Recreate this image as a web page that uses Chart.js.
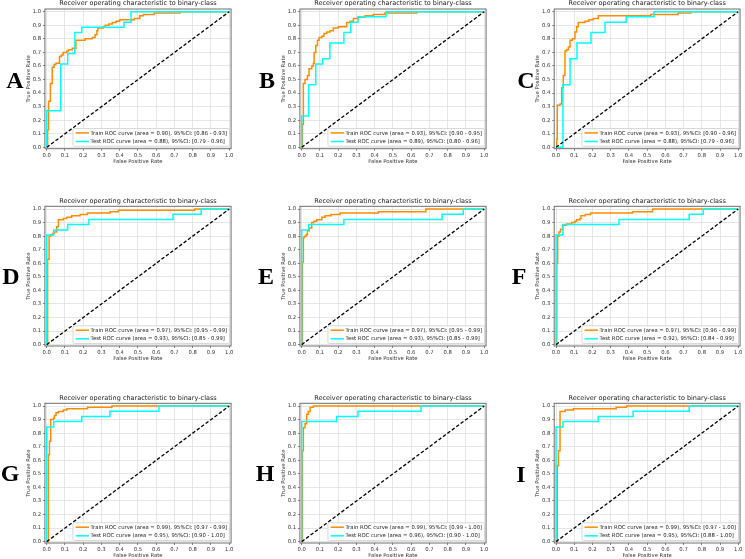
<!DOCTYPE html>
<html><head><meta charset="utf-8">
<script src="https://cdn.jsdelivr.net/npm/chart.js@4"></script>
<style>
html,body{margin:0;padding:0;background:#fff;overflow:hidden;width:745px;height:559px;}
#fig{position:relative;width:745px;height:559px;overflow:hidden;background:#fff;}
canvas{position:absolute;}
.lab{position:absolute;font-family:'Liberation Serif','Times New Roman',serif;font-weight:bold;font-size:24px;line-height:1;color:#000;transform:translate(-50%,-50%);}
</style></head><body><div id="fig"></div>
<script>
// ---------------- data ----------------
const panelLetters = ['A','B','C','D','E','F','G','H','I'];
const tickValues = [0.0,0.1,0.2,0.3,0.4,0.5,0.6,0.7,0.8,0.9,1.0];
const chartTitle = 'Receiver operating characteristic to binary-class';
const xAxisLabel = 'False Positive Rate';
const yAxisLabel = 'True Positive Rate';

const trainAuc    = [0.90,0.93,0.93,0.97,0.97,0.97,0.99,0.99,0.99];
const trainCiLow  = [0.86,0.90,0.90,0.95,0.95,0.96,0.97,0.99,0.97];
const trainCiHigh = [0.93,0.95,0.96,0.99,0.99,0.99,0.99,1.00,1.00];
const testAuc     = [0.88,0.89,0.88,0.93,0.93,0.92,0.95,0.96,0.95];
const testCiLow   = [0.79,0.80,0.79,0.85,0.85,0.84,0.90,0.90,0.88];
const testCiHigh  = [0.96,0.96,0.96,0.99,0.99,0.99,1.00,1.00,1.00];

const trainFprA = [0,0.005,0.01,0.02,0.03,0.04,0.05,0.07,0.08,0.09,0.11,0.12,0.14,0.16,0.21,0.25,0.265,0.275,0.28,0.31,0.32,0.34,0.36,0.38,0.40,0.48,0.51,0.53,0.59,0.73,1];
const trainTprA = [0,0.13,0.34,0.47,0.59,0.61,0.62,0.67,0.68,0.70,0.71,0.72,0.73,0.79,0.80,0.81,0.83,0.86,0.88,0.89,0.90,0.91,0.92,0.93,0.94,0.95,0.97,0.98,0.99,1,1];
const testFprA  = [0,0,0.077,0.115,0.154,0.192,0.423,0.462,1];
const testTprA  = [0,0.269,0.615,0.692,0.846,0.885,0.923,1,1];

const trainFprB = [0,0.004,0.009,0.018,0.031,0.04,0.055,0.064,0.068,0.077,0.086,0.095,0.11,0.122,0.137,0.155,0.173,0.20,0.246,0.265,0.283,0.31,0.347,0.392,0.456,0.63,1];
const trainTprB = [0,0.17,0.47,0.50,0.53,0.58,0.60,0.62,0.70,0.75,0.79,0.81,0.82,0.84,0.85,0.86,0.88,0.89,0.92,0.93,0.95,0.96,0.97,0.98,0.99,1,1];
const testFprB  = [0,0,0.038,0.077,0.115,0.154,0.231,0.269,0.308,0.462,1];
const testTprB  = [0,0.231,0.462,0.615,0.654,0.769,0.846,0.923,0.962,1,1];

const trainFprC = [0,0.004,0.007,0.022,0.031,0.04,0.049,0.058,0.068,0.077,0.089,0.104,0.113,0.122,0.159,0.181,0.204,0.232,0.52,0.67,0.74,1];
const trainTprC = [0,0.06,0.31,0.32,0.44,0.53,0.71,0.72,0.74,0.79,0.80,0.85,0.89,0.92,0.93,0.94,0.95,0.97,0.98,0.99,1,1];
const testFprC  = [0,0.038,0.077,0.115,0.192,0.269,0.385,0.538,1];
const testTprC  = [0,0.462,0.654,0.769,0.846,0.923,0.962,1,1];

const trainFprD = [0,0.005,0.013,0.022,0.031,0.042,0.055,0.064,0.091,0.11,0.137,0.183,0.223,0.347,0.393,0.81,1];
const trainTprD = [0,0.63,0.80,0.81,0.82,0.83,0.87,0.92,0.93,0.94,0.95,0.96,0.97,0.98,0.99,1,1];
const testFprD  = [0,0,0.038,0.115,0.231,0.692,0.846,1];
const testTprD  = [0,0.808,0.846,0.885,0.923,0.962,1,1];

const trainFprE = [0,0.004,0.009,0.015,0.024,0.031,0.042,0.055,0.067,0.082,0.11,0.128,0.16,0.21,0.42,0.68,1];
const trainTprE = [0,0.61,0.79,0.80,0.81,0.84,0.86,0.90,0.91,0.92,0.94,0.95,0.96,0.97,0.98,1,1];
const testFprE  = [0,0,0.038,0.231,0.769,0.885,1];
const testTprE  = [0,0.846,0.885,0.923,0.962,1,1];

const trainFprF = [0,0.004,0.009,0.016,0.025,0.036,0.058,0.086,0.104,0.113,0.131,0.137,0.16,0.19,0.42,0.53,1];
const trainTprF = [0,0.60,0.80,0.83,0.85,0.88,0.89,0.90,0.91,0.92,0.93,0.95,0.96,0.97,0.98,1,1];
const testFprF  = [0,0,0.038,0.346,0.731,0.808,1];
const testTprF  = [0,0.808,0.885,0.923,0.962,1,1];

const trainFprG = [0,0.009,0.015,0.022,0.037,0.042,0.051,0.064,0.09,0.11,0.223,0.357,1];
const trainTprG = [0,0.64,0.74,0.90,0.91,0.93,0.95,0.96,0.97,0.98,0.99,1,1];
const testFprG  = [0,0,0.038,0.192,0.346,0.615,1];
const testTprG  = [0,0.846,0.885,0.923,0.962,1,1];

const trainFprH = [0,0.004,0.009,0.018,0.027,0.036,0.046,0.064,1];
const trainTprH = [0,0.67,0.84,0.87,0.94,0.96,0.99,1,1];
const testFprH  = [0,0,0.192,0.308,0.654,1];
const testTprH  = [0,0.885,0.923,0.962,1,1];

const trainFprI = [0,0.007,0.013,0.022,0.05,0.095,0.33,0.387,1];
const trainTprI = [0,0.56,0.67,0.96,0.97,0.98,0.99,1,1];
const testFprI  = [0,0,0.038,0.231,0.423,0.731,1];
const testTprI  = [0,0.846,0.885,0.923,0.962,1,1];

// ---------------- layout / style ----------------
const trainFpr = [trainFprA,trainFprB,trainFprC,trainFprD,trainFprE,trainFprF,trainFprG,trainFprH,trainFprI];
const trainTpr = [trainTprA,trainTprB,trainTprC,trainTprD,trainTprE,trainTprF,trainTprG,trainTprH,trainTprI];
const testFpr  = [testFprA,testFprB,testFprC,testFprD,testFprE,testFprF,testFprG,testFprH,testFprI];
const testTpr  = [testTprA,testTprB,testTprC,testTprD,testTprE,testTprF,testTprG,testTprH,testTprI];

const colLeft = [44.9, 299.9, 554.2];
const colRight = [231.1, 486.1, 740.4];
const rowTop = [9.0, 206.3, 403.3];
const rowBottom = [148.7, 346.0, 543.0];
const letterPos = [[15,80],[267,80],[526,80],[11,276],[266,276],[519,276],[10,473],[265,473],[521,474]];

const TRAIN_COLOR = '#ff8c00', TEST_COLOR = '#00ffff';
const FONT = 'DejaVu Sans';
const SMALL = 5.3, TITLE = 6.5;

const fig = document.getElementById('fig');

function pts(xs, ys){ return xs.map((x,k)=>({x:x, y:ys[k]})); }

const framePlugin = {
  id:'frameLegend',
  afterDraw(chart){
    const ctx = chart.ctx, a = chart.chartArea;
    ctx.save();
    ctx.strokeStyle = '#6f6f6f'; ctx.lineWidth = 1;
    ctx.strokeRect(a.left, a.top, a.right-a.left, a.bottom-a.top);
    // legend
    const labels = chart.data.datasets.filter(d=>d.inLegend);
    ctx.font = SMALL + 'px "' + FONT + '"';
    const tw = Math.max(...labels.map(d=>ctx.measureText(d.label).width));
    const bw = 2.7 + 13.3 + 1.7 + tw + 2.4, bh = 17.7;
    const bx = a.right - 1.5 - bw, by = a.bottom - 2.5 - bh;
    ctx.beginPath();
    if (ctx.roundRect) ctx.roundRect(bx, by, bw, bh, 1.5); else ctx.rect(bx,by,bw,bh);
    ctx.fillStyle = 'rgba(255,255,255,0.85)'; ctx.fill();
    ctx.strokeStyle = '#cfcfcf'; ctx.lineWidth = 0.8; ctx.stroke();
    const ordered = labels.slice().sort((p,q)=>p.legendRank-q.legendRank);
    ordered.forEach((d,k)=>{
      const y = by + 4.4 + k*8.6;
      ctx.strokeStyle = d.borderColor; ctx.lineWidth = 1.5; ctx.setLineDash([]);
      ctx.beginPath(); ctx.moveTo(bx+2.7, y); ctx.lineTo(bx+16, y); ctx.stroke();
      ctx.fillStyle = '#222'; ctx.textBaseline = 'middle'; ctx.textAlign = 'left';
      ctx.fillText(d.label, bx+17.7, y+0.3);
    });
    ctx.restore();
  }
};

for (let i=0;i<9;i++){
  const c = i%3, r = Math.floor(i/3);
  const fl = colLeft[c], fr = colRight[c], ft = rowTop[r], fb = rowBottom[r];
  const L = Math.round(fl) - 45, T = Math.round(ft) - 10;
  const W = Math.ceil(fr + 3 - L), H = Math.ceil(fb + 18 - T);
  const cv = document.createElement('canvas');
  cv.width = W; cv.height = H;
  cv.style.left = L+'px'; cv.style.top = T+'px'; cv.style.width = W+'px'; cv.style.height = H+'px';
  fig.appendChild(cv);
  const yW = fl - L, padR = L + W - fr, xH = T + H - fb;
  const titleP1 = ft - T - TITLE*1.2 - 1.3;
  const lh = SMALL*1.2;
  const yTitlePt = (fl - 16.4) - L - lh/2;
  const xTitlePb = xH - 13 - lh/2;

  const trainLabel = 'Train ROC curve (area = ' + trainAuc[i].toFixed(2) + '), 95%CI: [' + trainCiLow[i].toFixed(2) + ' - ' + trainCiHigh[i].toFixed(2) + ']';
  const testLabel  = 'Test ROC curve (area = ' + testAuc[i].toFixed(2) + '), 95%CI: [' + testCiLow[i].toFixed(2) + ' - ' + testCiHigh[i].toFixed(2) + ']';

  const tickFont = {family: FONT, size: SMALL};
  new Chart(cv, {
    type: 'scatter',
    data: { datasets: [
      {label:'chance', data:[{x:0,y:0},{x:1,y:1}], showLine:true, borderColor:'#000', borderWidth:1.3, borderDash:[3.5,2], pointRadius:0, inLegend:false},
      {label:testLabel, data:pts(testFpr[i], testTpr[i]), showLine:true, stepped:true, borderColor:TEST_COLOR, borderWidth:1.5, pointRadius:0, inLegend:true, legendRank:1},
      {label:trainLabel, data:pts(trainFpr[i], trainTpr[i]), showLine:true, stepped:true, borderColor:TRAIN_COLOR, borderWidth:1.5, pointRadius:0, inLegend:true, legendRank:0}
    ]},
    options: {
      responsive:false, animation:false, devicePixelRatio:1,
      layout:{padding:{left:0, right:padR, top:0, bottom:0}},
      plugins:{
        legend:{display:false}, tooltip:{enabled:false},
        title:{display:true, fullSize:false, align:'center', text:chartTitle, color:'#222',
               font:{family:FONT, size:TITLE, weight:'normal', lineHeight:1.2},
               padding:{top:titleP1, bottom:1.3}}
      },
      scales:{
        x:{type:'linear', min:-0.01, max:1.01,
           afterBuildTicks:s=>{s.ticks = tickValues.map(v=>({value:v}));},
           afterFit:s=>{s.height = xH;},
           ticks:{autoSkip:false, maxRotation:0, minRotation:0, font:tickFont, color:'#333', padding:1.5, callback:v=>Number(v).toFixed(1)},
           grid:{color:'#e0e0e0', lineWidth:0.8, tickColor:'#666', tickLength:2, tickWidth:0.8},
           border:{display:false},
           title:{display:true, text:xAxisLabel, color:'#333', font:{family:FONT, size:SMALL, lineHeight:1.2}, padding:{top:0, bottom:xTitlePb}}},
        y:{type:'linear', min:-0.01, max:1.02,
           afterBuildTicks:s=>{s.ticks = tickValues.map(v=>({value:v}));},
           afterFit:s=>{s.width = yW;},
           ticks:{autoSkip:false, font:tickFont, color:'#333', padding:1.8, callback:v=>Number(v).toFixed(1)},
           grid:{color:'#e0e0e0', lineWidth:0.8, tickColor:'#666', tickLength:2, tickWidth:0.8},
           border:{display:false},
           title:{display:true, text:yAxisLabel, color:'#333', font:{family:FONT, size:SMALL, lineHeight:1.2}, padding:{top:yTitlePt, bottom:0}}}
      }
    },
    plugins:[framePlugin]
  });

  const lab = document.createElement('div');
  lab.className = 'lab';
  lab.textContent = panelLetters[i];
  lab.style.left = letterPos[i][0]+'px';
  lab.style.top = letterPos[i][1]+'px';
  fig.appendChild(lab);
}
</script>
</body></html>
